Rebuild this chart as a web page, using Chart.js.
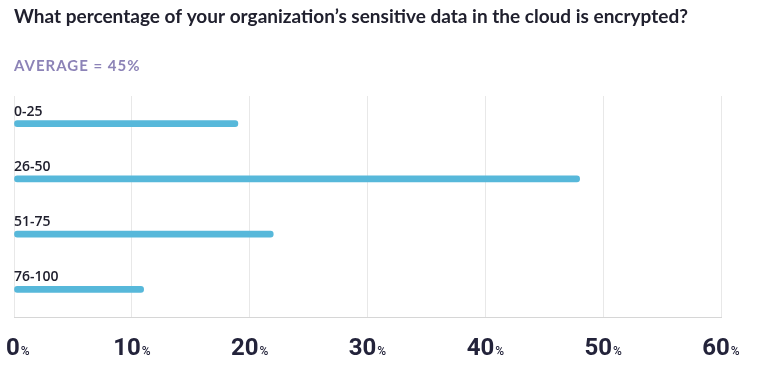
<!DOCTYPE html>
<html>
<head>
<meta charset="utf-8">
<script src="https://cdn.jsdelivr.net/npm/chart.js@4"></script>
<style>
  html, body { margin: 0; padding: 0; background: #fff; }
  #wrap { width: 770px; height: 371px; position: relative; }
</style>
</head>
<body>
<div id="wrap"><canvas id="chart"></canvas></div>
<script>
const titleText = "What percentage of your organization’s sensitive data in the cloud is encrypted?";
const averageText = "AVERAGE = 45%";
const categories = ["0-25", "26-50", "51-75", "76-100"];
const values = [19, 48, 22, 11];
const tickValues = [0, 10, 20, 30, 40, 50, 60];

const dark = "#20202e";

// draws the heading, the bar labels and the big tick labels
const textPlugin = {
  id: "texts",
  afterDraw(chart) {
    const ctx = chart.ctx;
    const xs = chart.scales.x;
    const ys = chart.scales.y;
    ctx.save();
    ctx.textBaseline = "alphabetic";
    ctx.textAlign = "left";

    ctx.fillStyle = dark;
    ctx.font = "bold 19px Lato";
    ctx.fillText(titleText, 14, 23);

    ctx.fillStyle = "#8c83b7";
    ctx.font = "bold 15px Lato";
    ctx.letterSpacing = "1px";
    ctx.fillText(averageText, 14, 71);
    ctx.letterSpacing = "0px";

    ctx.fillStyle = dark;
    ctx.font = "600 14px 'Open Sans'";
    categories.forEach((c, i) => {
      ctx.fillText(c, 14, ys.getPixelForValue(i) - 8);
    });

    tickValues.forEach((v) => {
      const px = xs.getPixelForValue(v);
      ctx.font = "bold 24px Roboto";
      const w1 = ctx.measureText(String(v)).width;
      ctx.font = "500 12px Roboto";
      const w2 = ctx.measureText("%").width;
      let left = px - (w1 + w2 + 1) / 2;
      if (left < 6) left = 6;
      ctx.fillStyle = "#23233a";
      ctx.font = "bold 24px Roboto";
      ctx.fillText(String(v), left, 355);
      ctx.font = "500 12px Roboto";
      ctx.fillText("%", left + w1 + 1, 355);
    });
    ctx.restore();
  }
};

new Chart(document.getElementById("chart"), {
  type: "bar",
  data: {
    labels: categories,
    datasets: [{
      data: values,
      backgroundColor: "#57b8da",
      barThickness: 6,
      borderRadius: 3,
      borderSkipped: false
    }]
  },
  options: {
    indexAxis: "y",
    responsive: true,
    maintainAspectRatio: false,
    animation: false,
    layout: { padding: { left: 14, right: 49, top: 96, bottom: 54 } },
    plugins: {
      legend: { display: false },
      tooltip: { enabled: false }
    },
    scales: {
      x: {
        min: 0,
        max: 60,
        ticks: { display: false, stepSize: 10 },
        grid: { color: "#e8e8e8", drawTicks: false },
        border: { display: true, color: "#d6d6d6", width: 1 }
      },
      y: { display: false }
    }
  },
  plugins: [textPlugin]
});
</script>
</body>
</html>
